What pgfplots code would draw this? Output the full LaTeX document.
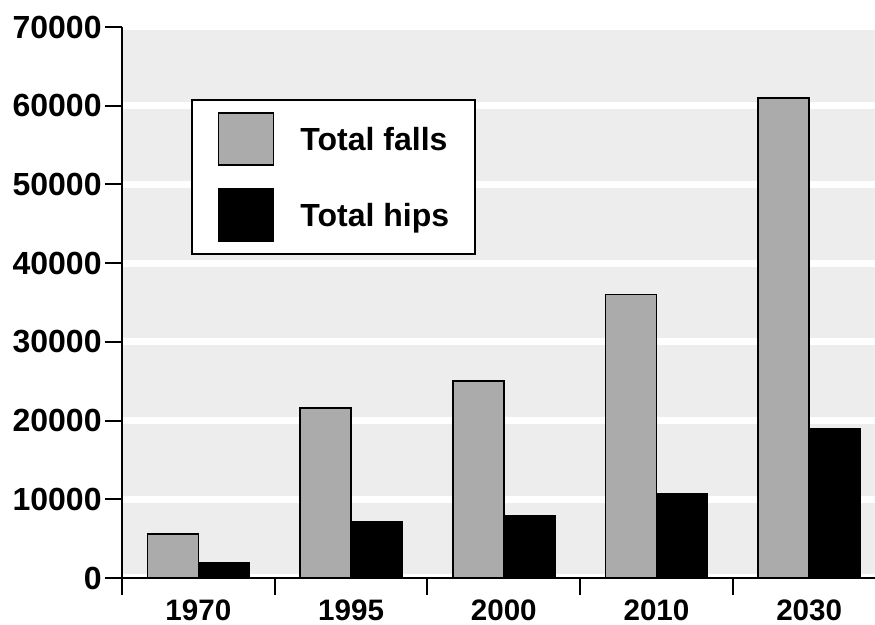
\documentclass[border=0pt]{standalone}
\usepackage{pgfplots}
\pgfplotsset{compat=1.18}
\usepackage{fontspec}
\setmainfont{Liberation Sans}

\definecolor{fallgray}{HTML}{ABABAB}
\definecolor{bggray}{HTML}{EDEDED}

\begin{document}
\begin{tikzpicture}
\begin{axis}[
  at={(0,0)}, anchor=south west,
  scale only axis, width=376.5pt, height=275.5pt,
  xmin=-0.5, xmax=4.431, ymin=0, ymax=70000,
  axis lines=left, axis line style={-, line width=1pt},
  axis background/.style={fill=bggray},
  ymajorgrids, grid style={white, line width=3.5pt},
  ytick={0,10000,...,70000},
  scaled y ticks=false,
  yticklabel style={/pgf/number format/1000 sep={}, inner sep=1.5pt,
    font=\fontsize{16}{19}\selectfont\bfseries},
  xtick={-0.5,0.5,1.5,2.5,3.5},
  xticklabels={},
  extra x ticks={0,1,2,3,4},
  extra x tick labels={1970,1995,2000,2010,2030},
  extra x tick style={major tick length=0pt,
    xticklabel style={inner sep=0pt, anchor=north, yshift=-10.5pt,
      font=\fontsize{14.8}{17}\selectfont\bfseries}},
  tick align=outside,
  major tick length=8.5pt,
  tick style={black, line width=1pt},
  /pgf/number format/assume math mode=true,
  legend style={at={(0.0916,0.869)}, anchor=north west,
    draw=black, line width=1pt, fill=white,
    inner xsep=13pt, inner ysep=6pt, row sep=11.25pt,
    nodes={inner sep=0pt, text depth=0pt},
    /tikz/every odd column/.append style={column sep=13pt},
    font=\fontsize{16}{19}\selectfont\bfseries},
  legend cell align=left,
  legend image code/.code={\draw[#1, line width=0.75pt] (0pt,-13pt) rectangle (27.5pt,13pt);},
]
\addplot[ybar, bar width=25.5pt, bar shift=-12.75pt, fill=fallgray, draw=black, line width=0.75pt]
  coordinates {(0,5600) (1,21600) (2,25000) (3,36000) (4,61000)};
\addlegendentry{Total falls}
\addplot[ybar, bar width=25.5pt, bar shift=12.75pt, fill=black, draw=black, line width=0.75pt]
  coordinates {(0,1900) (1,7100) (2,7900) (3,10700) (4,19000)};
\addlegendentry{Total hips}
\end{axis}
\pgfresetboundingbox
\path (-61pt,-23.5pt) rectangle (376.5pt,289pt);
\end{tikzpicture}
\end{document}
